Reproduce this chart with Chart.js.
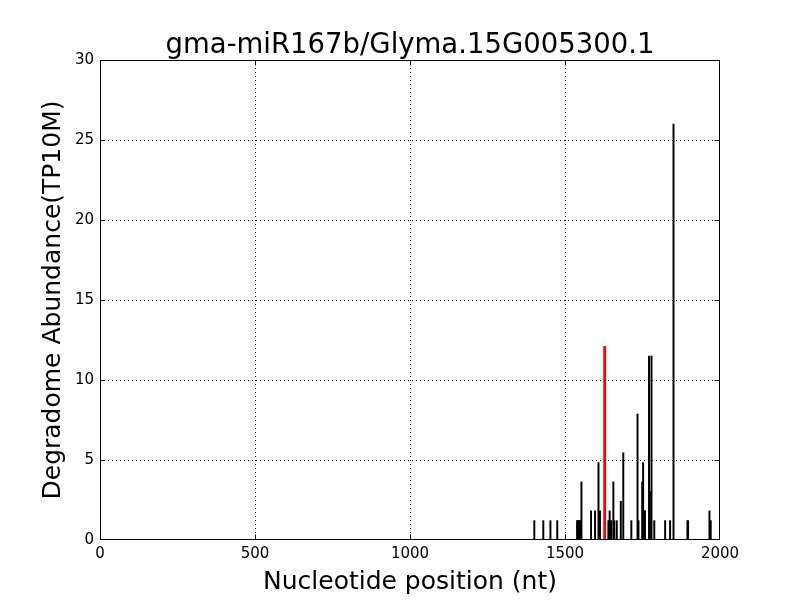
<!DOCTYPE html>
<html>
<head>
<meta charset="utf-8">
<script src="https://cdn.jsdelivr.net/npm/chart.js@4"></script>
<style>
  body { margin: 0; background: #fff; }
</style>
</head>
<body>
<canvas id="myChart" width="800" height="600"></canvas>
<script>
// read positions (nt) and abundance (TP10M)
const positions = [1401, 1430, 1453, 1475, 1539, 1541, 1543, 1545, 1547, 1549, 1553, 1584, 1597, 1608, 1613,
    1640, 1642, 1644, 1646, 1649, 1656, 1659, 1667, 1680, 1688, 1714, 1734, 1737, 1749, 1752, 1754, 1756, 1758,
    1771, 1774, 1779, 1788, 1823, 1839, 1850, 1895, 1897, 1966, 1970];
const abundance = [1.21, 1.21, 1.21, 1.21, 1.21, 1.21, 1.21, 1.21, 1.21, 1.21, 3.63, 1.82, 1.82, 4.84, 1.82,
    1.21, 1.21, 1.82, 1.21, 1.21, 3.63, 1.21, 1.21, 2.42, 5.45, 1.21, 7.87, 1.21, 3.63, 4.84, 1.82, 1.82, 1.82,
    11.5, 3.03, 11.5, 1.21, 1.21, 1.21, 26.0, 1.21, 1.21, 1.82, 1.21];
const targetPositions = [1628];
const targetAbundance = [12.1];
const xTicks = [0, 500, 1000, 1500, 2000];
const yTicks = [0, 5, 10, 15, 20, 25, 30];

Chart.defaults.font.family = '"DejaVu Sans", sans-serif';
Chart.defaults.color = '#000';

const ctx = document.getElementById('myChart');

const edgeClear = (lo, hi) => c => (c.tick && (c.tick.value === lo || c.tick.value === hi)) ? 'rgba(0,0,0,0)' : '#000';

// box frame + inward ticks, title centred over plot area
const framePlugin = {
    id: 'frame',
    afterLayout(chart) {
        if (chart.titleBlock) {
            chart.titleBlock.left = chart.chartArea.left;
            chart.titleBlock.right = chart.chartArea.right;
        }
    },
    afterDraw(chart) {
        const { ctx, chartArea: a, scales } = chart;
        const l = Math.round(a.left) + 0.5, r = Math.round(a.right) - 0.5;
        const t = Math.round(a.top) + 0.5, b = Math.round(a.bottom) - 0.5;
        ctx.save();
        ctx.strokeStyle = '#000';
        ctx.lineWidth = 1;
        ctx.strokeRect(l, t, r - l, b - t);
        ctx.beginPath();
        xTicks.forEach(v => {
            const px = Math.min(r, Math.round(scales.x.getPixelForValue(v)) + 0.5);
            ctx.moveTo(px, b); ctx.lineTo(px, b - 5);
            ctx.moveTo(px, t); ctx.lineTo(px, t + 5);
        });
        yTicks.forEach(v => {
            const py = Math.max(t, Math.min(b, Math.round(scales.y.getPixelForValue(v)) + 0.5));
            ctx.moveTo(l, py); ctx.lineTo(l + 5, py);
            ctx.moveTo(r, py); ctx.lineTo(r - 5, py);
        });
        ctx.stroke();
        ctx.restore();
    }
};

new Chart(ctx, {
    type: 'bar',
    data: {
        datasets: [{
            data: positions.map((p, i) => ({ x: p, y: abundance[i] })),
            backgroundColor: '#000',
            barThickness: 1.3
        }, {
            data: targetPositions.map((p, i) => ({ x: p, y: targetAbundance[i] })),
            backgroundColor: '#ff0000',
            barThickness: 2.2
        }]
    },
    options: {
        responsive: false,
        animation: false,
        grouped: false,
        layout: { padding: { left: 0, right: 80, top: 0.5, bottom: 0 } },
        plugins: {
            legend: { display: false },
            tooltip: { enabled: false },
            title: {
                display: true,
                text: 'gma-miR167b/Glyma.15G005300.1',
                font: { size: 27.5, weight: 'normal', lineHeight: 1 },
                padding: { top: 32, bottom: 0 }
            }
        },
        scales: {
            x: {
                type: 'linear',
                min: 0,
                max: 2000,
                offset: false,
                afterFit: s => { s.height = 60; },
                afterBuildTicks: s => { s.ticks = xTicks.map(v => ({ value: v })); },
                ticks: { font: { size: 15 }, padding: 5, maxRotation: 0, callback: v => String(v) },
                grid: { color: edgeClear(0, 2000), drawTicks: false, lineWidth: 1, offset: false },
                border: { display: false, dash: [1, 3] },
                title: { display: true, text: 'Nucleotide position (nt)', font: { size: 25 }, padding: { bottom: 3 } }
            },
            y: {
                min: 0,
                max: 30,
                afterFit: s => { s.width = 100; },
                afterBuildTicks: s => { s.ticks = yTicks.map(v => ({ value: v })); },
                ticks: { font: { size: 15 }, padding: 6, callback: v => String(v) },
                grid: { color: edgeClear(0, 30), drawTicks: false, lineWidth: 1 },
                border: { display: false, dash: [1, 3] },
                title: { display: true, text: 'Degradome Abundance(TP10M)', font: { size: 25 }, padding: { top: 38 } }
            }
        }
    },
    plugins: [framePlugin]
});
</script>
</body>
</html>
